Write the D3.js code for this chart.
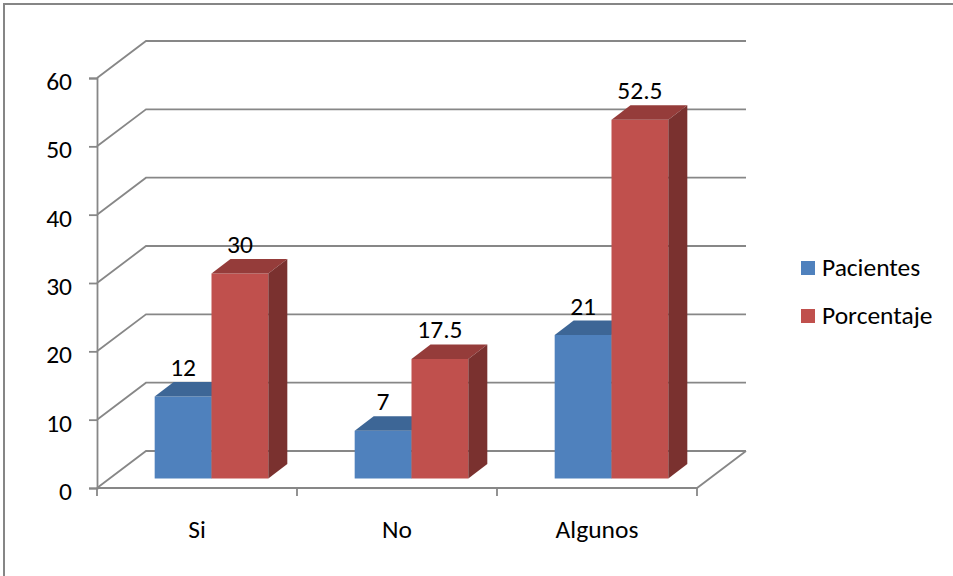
<!DOCTYPE html>
<html>
<head>
<meta charset="utf-8">
<script src="https://cdn.jsdelivr.net/npm/d3@7"></script>
<style>
  html, body { margin: 0; padding: 0; background: #fff; }
  svg { display: block; }
  text { font-family: Carlito, Lato, "Noto Sans", sans-serif; fill: #000; }
</style>
</head>
<body>
<svg id="chart" width="953" height="576"></svg>
<script>
// Data
const categories = ["Si", "No", "Algunos"];
const seriesNames = ["Pacientes", "Porcentaje"];
const pacientes = [12, 7, 21];
const porcentaje = [30, 17.5, 52.5];
const yTicks = [0, 10, 20, 30, 40, 50, 60];

const seriesValues = [pacientes, porcentaje];
const colors = {
  Pacientes: { front: "#4f81bd", top: "#3d6696", side: "#34587f" },
  Porcentaje: { front: "#c0504d", top: "#953c3a", side: "#7a312f" }
};
const fontSize = 25.5;

const svg = d3.select("#chart");

// Outer frame (extends past the bottom/right edges)
svg.append("rect")
  .attr("x", 4).attr("y", 4).attr("width", 980).attr("height", 600)
  .attr("fill", "none").attr("stroke", "#868686").attr("stroke-width", 2);

// Plot geometry: front plane plus oblique depth to the back wall
const x0 = 97, x1 = 697, yBase = 488, yTop = 78;
const depth = { dx: 49, dy: -37 };      // front plane -> back wall
const barShift = { dx: 14.5, dy: -9.5 }; // front plane -> bar front face
const barDepth = { dx: 19, dy: -14.5 };  // bar front face -> bar back face

const y = d3.scaleLinear().domain([0, 60]).range([yBase, yTop]);
const x = d3.scaleBand().domain(categories).range([x0, x1]);
const xs = d3.scaleBand().domain(seriesNames).range([0, x.bandwidth()])
  .paddingInner(0).paddingOuter(0.76);

const gridColor = "#878787";
const grid = svg.append("g").attr("fill", "none")
  .attr("stroke", gridColor).attr("stroke-width", 1.8);

// Gridlines: along the left wall then across the back wall
yTicks.forEach(t => {
  const yy = y(t);
  grid.append("path").attr("d",
    d3.line()([[x0, yy], [x0 + depth.dx, yy + depth.dy], [x1 + depth.dx, yy + depth.dy]]));
});

// Floor: front edge and right edge
grid.append("path").attr("d",
  d3.line()([[x0, yBase], [x1, yBase], [x1 + depth.dx, yBase + depth.dy]]));

// Vertical axis
const yAxis = d3.axisLeft(y).tickValues(yTicks).tickSize(8).tickPadding(17);
const ga = svg.append("g").attr("transform", `translate(${x0},0)`).call(yAxis);
ga.select(".domain").attr("stroke", gridColor).attr("stroke-width", 1.8);
ga.selectAll(".tick line").attr("stroke", gridColor).attr("stroke-width", 1.8);
ga.selectAll(".tick text")
  .attr("font-size", fontSize).attr("dy", "0.45em")
  .style("font-family", "Carlito, Lato, 'Noto Sans', sans-serif");

// Category axis ticks at band boundaries
const catEdges = categories.map(c => x(c)).concat([x1]);
svg.append("g").selectAll("line").data(catEdges).join("line")
  .attr("x1", d => d).attr("x2", d => d)
  .attr("y1", yBase).attr("y2", yBase + 8)
  .attr("stroke", gridColor).attr("stroke-width", 1.8);

svg.append("g").selectAll("text").data(categories).join("text")
  .attr("x", d => x(d) + x.bandwidth() / 2)
  .attr("y", 538)
  .attr("text-anchor", "middle")
  .attr("font-size", fontSize)
  .text(d => d);

// 3D bars
const bars = svg.append("g");
const labels = svg.append("g");
categories.forEach((cat, ci) => {
  seriesNames.forEach((s, si) => {
    const v = seriesValues[si][ci];
    const left = x(cat) + xs(s) + barShift.dx;
    const right = left + xs.bandwidth();
    const bottom = y(0) + barShift.dy;
    const top = y(v) + barShift.dy;
    const c = colors[s];
    const dx = barDepth.dx, dy = barDepth.dy;
    // front face
    bars.append("path").attr("fill", c.front)
      .attr("d", d3.line()([[left, bottom], [left, top], [right, top], [right, bottom]]) + "Z");
    // top face
    bars.append("path").attr("fill", c.top)
      .attr("d", d3.line()([[left, top], [left + dx, top + dy], [right + dx, top + dy], [right, top]]) + "Z");
    // side face
    bars.append("path").attr("fill", c.side)
      .attr("d", d3.line()([[right, top], [right + dx, top + dy], [right + dx, bottom + dy], [right, bottom]]) + "Z");
    // value label
    labels.append("text")
      .attr("x", (left + right) / 2)
      .attr("y", top + dy - 6)
      .attr("text-anchor", "middle")
      .attr("font-size", fontSize)
      .text(v);
  });
});

// Legend
const legend = svg.append("g");
seriesNames.forEach((s, i) => {
  const ly = 261 + i * 48;
  legend.append("rect").attr("x", 801).attr("y", ly).attr("width", 14).attr("height", 14)
    .attr("fill", colors[s].front);
  legend.append("text").attr("x", 822).attr("y", ly + 15)
    .attr("font-size", fontSize).text(s);
});
</script>
</body>
</html>
